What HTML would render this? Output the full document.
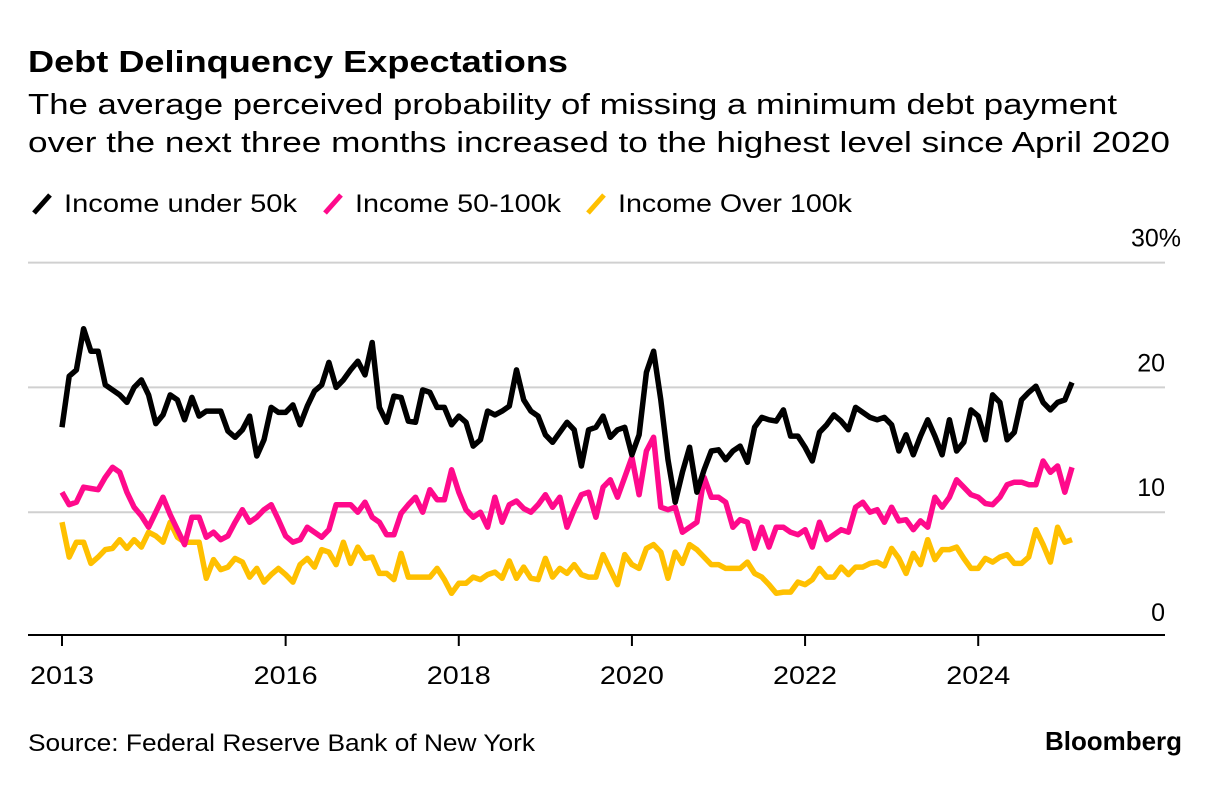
<!DOCTYPE html>
<html><head><meta charset="utf-8"><style>
body{margin:0;background:#fff;width:1221px;height:784px;overflow:hidden;font-family:"Liberation Sans",sans-serif;color:#000}
svg text{font-family:"Liberation Sans",sans-serif}
</style></head><body>
<svg id="chart" width="1221" height="784" xmlns="http://www.w3.org/2000/svg">
<text x="28" y="72" font-size="31" font-weight="bold" textLength="540" lengthAdjust="spacingAndGlyphs">Debt Delinquency Expectations</text>
<text x="28" y="114" font-size="29" textLength="1089" lengthAdjust="spacingAndGlyphs">The average perceived probability of missing a minimum debt payment</text>
<text x="28" y="152" font-size="29" textLength="1142" lengthAdjust="spacingAndGlyphs">over the next three months increased to the highest level since April 2020</text>
<g>
<g><line x1="34" y1="213" x2="50" y2="195" stroke="#000" stroke-width="5"/><text x="64" y="212" font-size="25" textLength="233" lengthAdjust="spacingAndGlyphs">Income under 50k</text></g>
<g><line x1="325" y1="213" x2="341" y2="195" stroke="#ff0a8c" stroke-width="5"/><text x="355" y="212" font-size="25" textLength="206" lengthAdjust="spacingAndGlyphs">Income 50-100k</text></g>
<g><line x1="588" y1="213" x2="604" y2="195" stroke="#ffc000" stroke-width="5"/><text x="618" y="212" font-size="25" textLength="234" lengthAdjust="spacingAndGlyphs">Income Over 100k</text></g>
</g>
<g id="grid"></g>
<g id="series"></g>
<g id="xaxis"></g>
<text x="28" y="751" font-size="24" textLength="507" lengthAdjust="spacingAndGlyphs">Source: Federal Reserve Bank of New York</text>
<text x="1045" y="750" font-size="26" font-weight="bold" textLength="137" lengthAdjust="spacingAndGlyphs">Bloomberg</text>
</svg>
<script>
const under50k=[16.8,20.9,21.4,24.7,22.9,22.9,20.2,19.8,19.4,18.8,20.0,20.6,19.4,17.1,17.8,19.4,19.0,17.4,19.2,17.7,18.1,18.1,18.1,16.5,16.0,16.6,17.7,14.5,15.8,18.4,18.0,18.0,18.6,17.0,18.5,19.7,20.2,22.0,20.0,20.6,21.4,22.1,21.0,23.6,18.4,17.2,19.3,19.2,17.3,17.2,19.8,19.6,18.4,18.4,17.0,17.7,17.2,15.3,15.8,18.1,17.8,18.1,18.5,21.4,19.0,18.1,17.7,16.2,15.6,16.4,17.2,16.6,13.7,16.6,16.8,17.7,16.0,16.6,16.8,14.6,16.2,21.2,22.9,19.0,14.2,10.8,13.2,15.2,11.6,13.4,14.9,15.0,14.2,14.9,15.3,14.0,16.8,17.6,17.4,17.3,18.2,16.1,16.1,15.2,14.1,16.4,17.0,17.8,17.3,16.6,18.4,18.0,17.6,17.4,17.6,17.0,14.9,16.2,14.6,16.1,17.4,16.1,14.6,17.4,14.9,15.6,18.2,17.7,15.8,19.4,18.8,15.8,16.4,19.0,19.6,20.1,18.8,18.2,18.8,19.0,20.4];
const income50to100k=[11.6,10.6,10.8,12.0,11.9,11.8,12.8,13.6,13.2,11.6,10.4,9.7,8.8,10.0,11.2,9.8,8.6,7.4,9.6,9.6,8.0,8.4,7.8,8.1,9.2,10.2,9.2,9.6,10.2,10.6,9.4,8.1,7.6,7.8,8.8,8.4,8.0,8.6,10.6,10.6,10.6,10.0,10.8,9.6,9.2,8.2,8.2,9.9,10.6,11.2,10.0,11.8,11.0,11.0,13.4,11.6,10.2,9.6,10.0,8.8,11.2,9.2,10.6,10.9,10.3,10.0,10.6,11.4,10.4,11.2,8.8,10.2,11.4,11.6,9.6,12.0,12.6,11.2,12.8,14.4,11.4,14.9,16.0,10.4,10.2,10.4,8.4,8.8,9.2,12.8,11.2,11.2,10.8,8.8,9.4,9.2,7.1,8.8,7.2,8.8,8.8,8.4,8.2,8.6,7.2,9.2,7.8,8.2,8.6,8.4,10.4,10.8,10.0,10.2,9.2,10.4,9.3,9.4,8.6,9.3,8.8,11.2,10.4,11.2,12.6,12.0,11.4,11.2,10.7,10.6,11.2,12.2,12.4,12.4,12.2,12.2,14.1,13.2,13.7,11.6,13.6];
const over100k=[9.2,6.4,7.6,7.6,5.9,6.4,7.0,7.1,7.8,7.1,7.8,7.2,8.4,8.1,7.6,9.2,8.0,7.6,7.6,7.6,4.7,6.2,5.4,5.6,6.3,6.0,4.8,5.5,4.4,5.0,5.5,5.0,4.4,5.8,6.3,5.6,7.0,6.8,5.8,7.6,5.9,7.2,6.3,6.4,5.1,5.1,4.6,6.7,4.8,4.8,4.8,4.8,5.5,4.6,3.5,4.3,4.3,4.8,4.6,5.0,5.2,4.7,6.1,4.7,5.6,4.7,4.6,6.3,4.8,5.5,5.1,5.8,5.0,4.8,4.8,6.6,5.4,4.2,6.6,5.8,5.5,7.1,7.4,6.8,4.7,6.8,5.9,7.4,7.0,6.4,5.8,5.8,5.5,5.5,5.5,6.0,5.1,4.8,4.2,3.5,3.6,3.6,4.4,4.2,4.6,5.5,4.8,4.8,5.6,5.0,5.6,5.6,5.9,6.0,5.7,7.1,6.3,5.1,6.7,5.8,7.8,6.2,7.0,7.0,7.2,6.3,5.5,5.5,6.3,6.0,6.4,6.6,5.9,5.9,6.4,8.6,7.4,6.0,8.8,7.6,7.8];
const yTicks=[0,10,20,30];
const yTickLabels=["0","10","20","30%"];
const xTickMonths=[0,31,55,79,103,127];
const xTickLabels=["2013","2016","2018","2020","2022","2024"];

const NS="http://www.w3.org/2000/svg";
const X0=62,X1=1072,N=under50k.length;
function xScale(i){return X0+i*(X1-X0)/(N-1);}
function yScale(v){return 637-v*12.48;}
function mk(tag,attrs,parent){const e=document.createElementNS(NS,tag);for(const k in attrs)e.setAttribute(k,attrs[k]);parent.appendChild(e);return e;}
const grid=document.getElementById('grid');
yTicks.forEach((t,k)=>{
  if(t>0){const g=mk('line',{x1:28,x2:1165,y1:yScale(t),y2:yScale(t),stroke:'#d0d0d0','stroke-width':2},grid);
  
  }
  const last=k===yTicks.length-1;
  const tx=mk('text',last?{x:1131,y:yScale(t)-16,'font-size':25}:{x:1165,y:yScale(t)-16,'font-size':25,'text-anchor':'end'},grid);
  tx.textContent=yTickLabels[k];
  
  
});
const xa=document.getElementById('xaxis');
const axis=mk('line',{x1:28,x2:1165,y1:635,y2:635,stroke:'#000','stroke-width':2},xa);


xTickMonths.forEach((m,k)=>{
  const x=xScale(m);
  const tk=mk('line',{x1:x,x2:x,y1:635,y2:646,stroke:'#000','stroke-width':2},xa);
  
  
  const tx=mk('text',{x:x,y:684,'font-size':25,'text-anchor':'middle',textLength:64,lengthAdjust:'spacingAndGlyphs'},xa);
  tx.textContent=xTickLabels[k];
  
  
});
const sg=document.getElementById('series');
[[over100k,'#ffc000','line-income-over-100k'],[income50to100k,'#ff0a8c','line-income-50-100k'],[under50k,'#000','line-income-under-50k']].forEach(([d,c,n])=>{
  const p=mk('polyline',{points:d.map((v,i)=>xScale(i).toFixed(1)+','+yScale(v).toFixed(1)).join(' '),fill:'none',stroke:c,'stroke-width':5.5,'stroke-linejoin':'round'},sg);
  
  
});
</script>
</body></html>
